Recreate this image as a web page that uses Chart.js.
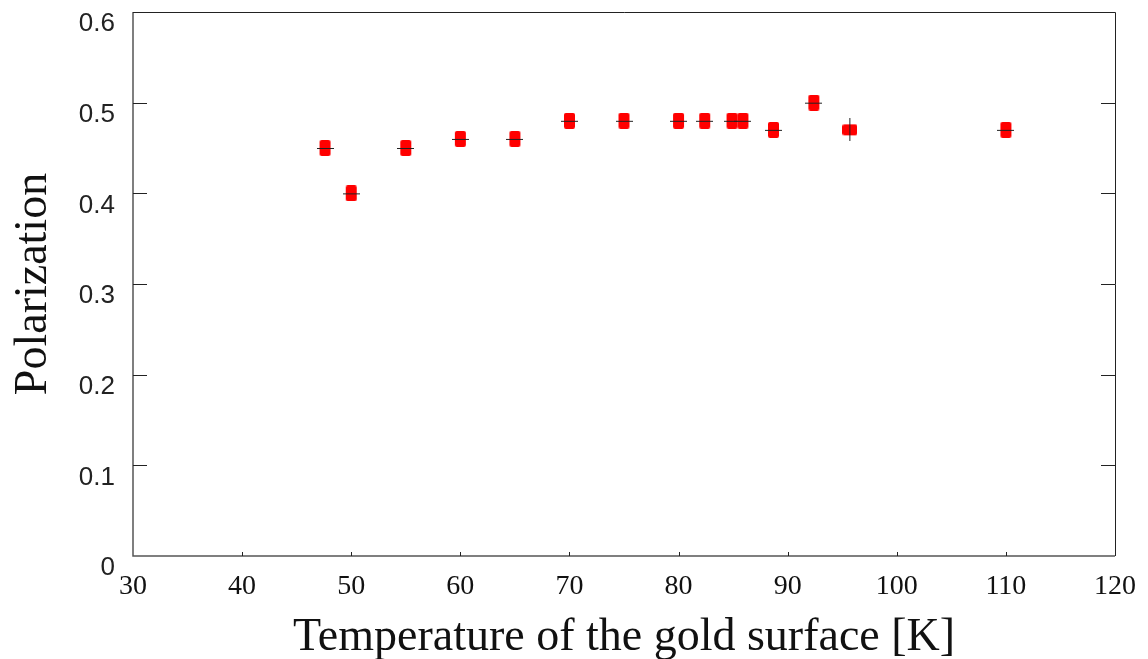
<!DOCTYPE html>
<html>
<head>
<meta charset="utf-8">
<script src="https://cdn.jsdelivr.net/npm/chart.js@4"></script>
<style>
  html, body { margin: 0; padding: 0; background: #fff; }
  #wrap { width: 1148px; height: 659px; position: relative; }
</style>
</head>
<body>
<div id="wrap"><canvas id="chart"></canvas></div>
<script>
// values
const temperatures = [47.6, 50, 55, 60, 65, 70, 75, 80, 82.4, 84.9, 85.9, 88.7, 92.4, 95.7, 110];
const polarization = [0.45, 0.40, 0.45, 0.46, 0.46, 0.48, 0.48, 0.48, 0.48, 0.48, 0.48, 0.47, 0.50, 0.47, 0.47];
const xTicks = [30, 40, 50, 60, 70, 80, 90, 100, 110, 120];
const yTicks = [0, 0.1, 0.2, 0.3, 0.4, 0.5, 0.6];

// marker: red box with a thin black error bar through it
function marker(w, h, vertical) {
  const c = document.createElement("canvas");
  const cw = vertical ? w : w + 6;
  const ch = vertical ? h + 12 : h;
  c.width = cw; c.height = ch;
  const g = c.getContext("2d");
  g.fillStyle = "#ff0000";
  const x0 = (cw - w) / 2, y0 = (ch - h) / 2;
  g.beginPath();
  if (g.roundRect) g.roundRect(x0, y0, w, h, 2); else g.rect(x0, y0, w, h);
  g.fill();
  g.strokeStyle = "#222";
  g.lineWidth = 1;
  g.beginPath();
  if (vertical) { g.moveTo(Math.floor(cw / 2) + 0.5, 0); g.lineTo(Math.floor(cw / 2) + 0.5, ch); }
  else { g.moveTo(0, Math.floor(ch / 2) + 0.5); g.lineTo(cw, Math.floor(ch / 2) + 0.5); }
  g.stroke();
  return c;
}
const tall = marker(11, 16, false);
const wide = marker(15, 11, true);
const styles = temperatures.map((t, i) => (i === 13 ? wide : tall));

// frame and inward ticks
const framePlugin = {
  id: "frame",
  afterDraw(chart) {
    const { ctx, chartArea: a, scales } = chart;
    ctx.save();
    ctx.lineWidth = 1.5;
    ctx.strokeStyle = "#555";
    ctx.beginPath();
    ctx.moveTo(a.left, a.top); ctx.lineTo(a.left, a.bottom); ctx.lineTo(a.right, a.bottom);
    ctx.stroke();
    ctx.strokeStyle = "#222";
    ctx.lineWidth = 1;
    ctx.beginPath();
    ctx.moveTo(a.left, a.top + 0.5); ctx.lineTo(a.right + 0.5, a.top + 0.5); ctx.lineTo(a.right + 0.5, a.bottom);
    ctx.stroke();
    ctx.beginPath();
    yTicks.forEach(v => {
      if (v === 0 || v === 0.6) return;
      const y = Math.round(scales.y.getPixelForValue(v)) + 0.5;
      ctx.moveTo(a.left, y); ctx.lineTo(a.left + 14, y);
      ctx.moveTo(a.right, y); ctx.lineTo(a.right - 14, y);
    });
    xTicks.forEach(v => {
      if (v === 30 || v === 120) return;
      const x = Math.round(scales.x.getPixelForValue(v)) + 0.5;
      ctx.moveTo(x, a.bottom); ctx.lineTo(x, a.bottom - 4);
    });
    ctx.stroke();
    ctx.restore();
  }
};

new Chart(document.getElementById("chart"), {
  type: "scatter",
  data: {
    datasets: [{
      data: temperatures.map((t, i) => ({ x: t, y: polarization[i] })),
      pointStyle: styles,
      pointRadius: 8,
      pointHoverRadius: 8
    }]
  },
  options: {
    responsive: true,
    maintainAspectRatio: false,
    animation: false,
    layout: { padding: { top: 12, right: 33, left: 0, bottom: 0 } },
    plugins: { legend: { display: false }, tooltip: { enabled: false } },
    scales: {
      x: {
        type: "linear",
        min: 30, max: 120,
        afterBuildTicks: s => { s.ticks = xTicks.map(v => ({ value: v })); },
        afterFit: s => { s.height = 103; },
        grid: { display: false },
        border: { display: false },
        ticks: {
          color: "#111",
          padding: 6,
          font: { family: "Liberation Serif", size: 28 },
          callback: v => String(v)
        },
        title: {
          display: true,
          text: "Temperature of the gold surface [K]",
          color: "#111",
          font: { family: "Liberation Serif", size: 46 },
          padding: { top: 2, bottom: -7 }
        }
      },
      y: {
        type: "linear",
        min: 0, max: 0.6,
        afterBuildTicks: s => { s.ticks = yTicks.map(v => ({ value: v })); },
        afterFit: s => { s.width = 133; s.paddingTop = 0; s.paddingBottom = 0; },
        grid: { display: false },
        border: { display: false },
        ticks: {
          color: "#222",
          padding: 10,
          labelOffset: 12,
          font: { family: "Liberation Sans", size: 26 },
          callback: v => String(Math.round(v * 10) / 10)
        },
        title: {
          display: true,
          text: "Polarization",
          color: "#111",
          font: { family: "Liberation Serif", size: 46 },
          padding: { top: 6, bottom: 14 }
        }
      }
    }
  },
  plugins: [framePlugin]
});
</script>
</body>
</html>
